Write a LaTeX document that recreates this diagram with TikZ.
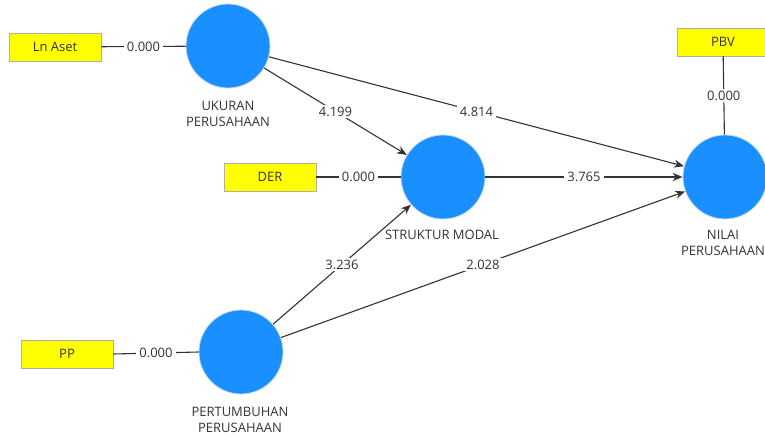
\documentclass[tikz,border=0pt]{standalone}
\usepackage{fontspec}
\setmainfont{Open Sans}
\usetikzlibrary{arrows.meta}
\definecolor{lv}{HTML}{1A8FFF}
\definecolor{lvborder}{HTML}{C8D8E8}
\definecolor{ind}{HTML}{FFFF00}
\definecolor{indborder}{HTML}{B0B0A0}
\definecolor{txt}{HTML}{333333}
\definecolor{edge}{HTML}{333333}
\begin{document}
\begin{tikzpicture}[x=1pt,y=-1pt,
  latent/.style={circle,fill=lv,draw=lvborder,line width=0.8pt,minimum size=84pt,inner sep=0pt},
  indic/.style={rectangle,fill=ind,draw=indborder,line width=0.8pt,minimum width=92pt,minimum height=28pt,inner sep=0pt,font=\fontsize{13}{15}\selectfont,text=txt},
  lvlabel/.style={align=center,font=\fontsize{13}{16}\selectfont,text=txt,inner sep=0pt},
  wlabel/.style={fill=white,inner xsep=3pt,inner ysep=1.5pt,font=\fontsize{13}{15}\selectfont,text=txt},
  link/.style={draw=edge,line width=1.1pt},
  path/.style={draw=edge,line width=1.1pt,-{Stealth[length=10pt,width=8pt]}}
]
\useasboundingbox (0,0) rectangle (765,438);
% latent variables
\node[latent] (uk) at (228,46) {};
\node[latent] (sm) at (443,177) {};
\node[latent] (np) at (725,177) {};
\node[latent] (pp) at (241,352) {};
% labels
\node[lvlabel] (ukl) at (228,114) {UKURAN\\PERUSAHAAN};
\node[lvlabel] (sml) at (442,235) {STRUKTUR MODAL};
\node[lvlabel] (npl) at (723,243) {NILAI\\PERUSAHAAN};
\node[lvlabel] (ppl) at (240,420) {PERTUMBUHAN\\PERUSAHAAN};
% indicators
\node[indic] (ln) at (55,47) {Ln Aset};
\node[indic] (der) at (270,177) {DER};
\node[indic] (pbv) at (723,42) {PBV};
\node[indic] (ppi) at (67,354) {PP};
% outer loadings
\draw[link] (ln) -- node[wlabel] {0.000} (uk);
\draw[link] (der) -- node[wlabel] {0.000} (sm);
\draw[link] (pbv) -- node[wlabel] {0.000} (np);
\draw[link] (ppi.east) -- node[wlabel] {0.000} (pp.west);
% paths
\draw[path] (uk) -- node[wlabel] {4.199} (sm);
\draw[path] (uk) -- node[wlabel] {4.814} (np);
\draw[path] (sm) -- node[wlabel] {3.765} (np);
\draw[path] (pp) -- node[wlabel] {3.236} (sm);
\draw[path] (pp) -- node[wlabel] {2.028} (np);
\end{tikzpicture}
\end{document}
